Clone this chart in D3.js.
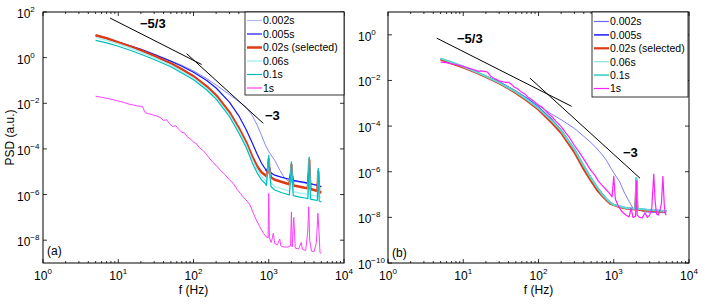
<!DOCTYPE html>
<html>
<head>
<meta charset="utf-8">
<script src="https://cdn.jsdelivr.net/npm/d3@7"></script>
<style>
  body { margin: 0; background: #fff; }
  svg { display: block; font-family: "Liberation Sans", Arial, sans-serif; }
</style>
</head>
<body>
<svg id="chart" width="708" height="305"></svg>
<script>
// Series are [f (Hz), log10 PSD] pairs.
var seriesNames = ["0.002s", "0.005s", "0.02s (selected)", "0.06s", "0.1s", "1s"];

// ── panel (a) ──
var a002 = [[5,0.97],[10,0.68],[20,0.37],[30,0.16],[50,-0.14],[70,-0.34],[100,-0.58],[150,-0.92],[200,-1.2],[300,-1.62],[400,-1.92],[500,-2.18],[600,-2.52],[700,-2.95],[800,-3.4],[900,-3.82],[1000,-4.12],[1200,-4.5],[1400,-4.93],[1600,-5.25],[1800,-5.4],[1940,-5.42],[2000,-4.65],[2060,-5.42],[2500,-5.45],[3000,-5.5],[3300,-5.52],[3450,-4.45],[3600,-5.55],[4000,-5.58],[4450,-5.6],[4550,-4.95],[4650,-5.62],[5000,-5.67]];
var a005 = [[5,0.97],[7,0.85],[10,0.68],[15,0.5],[20,0.36],[30,0.14],[50,-0.16],[70,-0.38],[100,-0.64],[150,-1.0],[200,-1.33],[300,-1.95],[400,-2.55],[500,-3.15],[600,-3.72],[700,-4.22],[800,-4.62],[900,-4.88],[930,-4.98],[985,-4.75],[1000,-4.4],[1015,-4.75],[1070,-5.05],[1200,-5.15],[1500,-5.25],[1880,-5.33],[1970,-5.0],[2000,-4.65],[2030,-5.0],[2120,-5.38],[2500,-5.42],[3000,-5.47],[3320,-5.5],[3410,-4.85],[3450,-4.45],[3490,-4.85],[3580,-5.52],[4000,-5.56],[4420,-5.6],[4510,-5.3],[4550,-4.95],[4590,-5.3],[4680,-5.62],[5000,-5.66]];
var a02 = [[5,0.98],[7,0.85],[10,0.67],[15,0.47],[20,0.32],[30,0.08],[50,-0.25],[70,-0.51],[100,-0.82],[150,-1.26],[200,-1.65],[300,-2.39],[400,-3.09],[500,-3.7],[600,-4.32],[700,-4.76],[800,-5.02],[900,-5.15],[930,-5.2],[985,-4.9],[1000,-4.45],[1015,-4.9],[1070,-5.25],[1200,-5.35],[1500,-5.45],[1880,-5.55],[1970,-5.15],[2000,-4.7],[2030,-5.15],[2120,-5.6],[2500,-5.65],[3000,-5.7],[3320,-5.72],[3410,-5.0],[3450,-4.5],[3490,-5.0],[3580,-5.76],[4000,-5.8],[4420,-5.85],[4510,-5.4],[4550,-5.0],[4590,-5.4],[4680,-5.88],[5000,-5.92]];
var a06 = [[5,0.88],[7,0.76],[10,0.6],[15,0.4],[20,0.24],[30,0.0],[50,-0.33],[70,-0.6],[100,-0.9],[150,-1.35],[200,-1.75],[300,-2.5],[400,-3.2],[500,-3.82],[600,-4.45],[700,-4.9],[800,-5.2],[900,-5.38],[930,-5.45],[985,-4.8],[1000,-4.35],[1015,-4.8],[1070,-5.5],[1200,-5.65],[1500,-5.75],[1880,-5.85],[1970,-5.1],[2000,-4.6],[2030,-5.1],[2120,-5.88],[2500,-5.92],[3000,-5.97],[3320,-6.0],[3410,-4.9],[3450,-4.4],[3490,-4.9],[3580,-6.02],[4000,-6.05],[4420,-6.08],[4510,-5.4],[4550,-4.88],[4590,-5.4],[4680,-6.1],[5000,-6.15]];
var a1 = [[5,0.76],[7,0.65],[10,0.5],[15,0.3],[20,0.15],[30,-0.08],[50,-0.4],[70,-0.67],[100,-0.97],[150,-1.42],[200,-1.82],[300,-2.58],[400,-3.3],[500,-3.93],[600,-4.58],[700,-5.05],[800,-5.35],[900,-5.52],[930,-5.6],[985,-4.75],[1000,-4.28],[1015,-4.75],[1070,-5.65],[1200,-5.8],[1500,-5.92],[1880,-6.02],[1970,-5.05],[2000,-4.57],[2030,-5.05],[2120,-6.05],[2500,-6.1],[3000,-6.15],[3320,-6.18],[3410,-4.85],[3450,-4.36],[3490,-4.85],[3580,-6.2],[4000,-6.23],[4420,-6.26],[4510,-5.35],[4550,-4.85],[4590,-5.35],[4680,-6.28],[5000,-6.32]];
var a1s = [[5,-1.69],[6,-1.74],[7,-1.78],[8,-1.82],[10,-1.9],[12,-1.97],[14,-2.04],[16,-2.08],[18,-2.12],[20,-2.13],[21,-2.14],[22,-2.3],[23,-2.42],[25,-2.45],[28,-2.5],[32,-2.55],[36,-2.62],[40,-2.75],[44,-2.72],[48,-2.9],[53,-3.02],[58,-2.98],[64,-3.15],[70,-3.28],[76,-3.3],[82,-3.46],[90,-3.55],[100,-3.7],[110,-3.78],[120,-3.95],[133,-4.06],[145,-4.2],[160,-4.38],[182,-4.6],[200,-4.72],[230,-4.95],[260,-5.12],[300,-5.35],[335,-5.5],[380,-5.78],[420,-5.95],[470,-6.15],[520,-6.3],[565,-6.46],[620,-6.8],[680,-7.1],[760,-7.41],[850,-7.7],[920,-7.85],[980,-7.9],[1000,-5.95],[1020,-7.9],[1080,-8.1],[1150,-7.7],[1200,-8.15],[1300,-8.2],[1400,-7.95],[1450,-8.25],[1600,-8.3],[1800,-8.3],[1950,-8.25],[2000,-6.76],[2050,-8.3],[2150,-7.0],[2250,-8.35],[2500,-8.38],[2700,-8.1],[2800,-8.4],[3100,-8.45],[3300,-7.6],[3400,-6.54],[3500,-8.0],[3700,-8.48],[4000,-8.5],[4300,-8.1],[4500,-6.82],[4650,-7.6],[4800,-8.55],[5000,-8.57]];

// ── panel (b) ──
var b002 = [[5,-1.07],[10,-1.41],[20,-1.82],[30,-2.07],[50,-2.46],[70,-2.76],[100,-3.1],[150,-3.48],[200,-3.72],[300,-4.1],[400,-4.45],[500,-4.73],[565,-4.9],[700,-5.25],[800,-5.5],[900,-5.8],[1000,-6.05],[1200,-6.45],[1400,-6.95],[1600,-7.3],[1800,-7.6],[1950,-7.65],[2000,-6.28],[2050,-7.65],[2500,-7.75],[3000,-7.78],[5000,-7.8]];
var b005 = [[5,-1.07],[10,-1.41],[20,-1.82],[30,-2.07],[50,-2.48],[70,-2.8],[100,-3.18],[150,-3.72],[200,-4.18],[300,-5.02],[400,-5.75],[500,-6.28],[600,-6.68],[700,-6.97],[800,-7.2],[900,-7.35],[1000,-7.45],[1500,-7.6],[1940,-7.62],[2000,-6.3],[2060,-7.62],[3000,-7.68],[5000,-7.72]];
var b02 = [[5,-1.08],[7,-1.25],[10,-1.43],[15,-1.66],[20,-1.85],[30,-2.12],[40,-2.35],[50,-2.55],[70,-2.88],[100,-3.28],[150,-3.85],[200,-4.3],[300,-5.15],[400,-5.9],[500,-6.4],[600,-6.8],[700,-7.05],[800,-7.25],[900,-7.4],[1200,-7.55],[1500,-7.62],[1940,-7.65],[2000,-6.4],[2060,-7.65],[2500,-7.7],[5000,-7.75]];
var b06 = [[5,-1.04],[7,-1.2],[10,-1.4],[15,-1.64],[20,-1.83],[30,-2.1],[50,-2.52],[70,-2.85],[100,-3.24],[150,-3.78],[200,-4.22],[300,-5.05],[400,-5.78],[500,-6.3],[600,-6.7],[700,-7.0],[800,-7.2],[900,-7.35],[1000,-7.45],[1500,-7.6],[1940,-7.62],[2000,-6.3],[2060,-7.62],[3000,-7.68],[5000,-7.72]];
var b1 = [[5,-1.03],[7,-1.2],[10,-1.39],[15,-1.63],[20,-1.82],[30,-2.09],[50,-2.5],[70,-2.83],[100,-3.22],[150,-3.76],[200,-4.2],[300,-5.02],[400,-5.75],[500,-6.28],[600,-6.68],[700,-6.98],[800,-7.2],[900,-7.35],[1000,-7.45],[1500,-7.6],[1940,-7.62],[2000,-6.27],[2060,-7.62],[3000,-7.68],[5000,-7.72]];
var b1s = [[5,-1.2],[6,-1.22],[7,-1.27],[8,-1.3],[10,-1.38],[12,-1.47],[14,-1.53],[16,-1.6],[17,-1.58],[19,-1.6],[21,-1.63],[23,-1.8],[26,-1.92],[30,-2.02],[33,-2.05],[36,-2.08],[40,-2.08],[44,-2.18],[48,-2.3],[52,-2.35],[58,-2.48],[65,-2.58],[72,-2.72],[80,-2.82],[90,-2.95],[100,-3.08],[110,-3.15],[120,-3.28],[135,-3.45],[150,-3.58],[170,-3.78],[200,-4.02],[230,-4.3],[260,-4.52],[300,-4.85],[340,-5.1],[400,-5.45],[450,-5.72],[500,-5.95],[560,-6.15],[620,-6.4],[700,-6.6],[800,-6.8],[880,-6.95],[950,-7.1],[1000,-6.2],[1050,-7.2],[1150,-7.5],[1250,-7.7],[1330,-7.8],[1450,-7.9],[1600,-7.98],[1700,-7.6],[1800,-8.0],[1950,-7.95],[2000,-6.4],[2050,-7.9],[2200,-8.0],[2400,-8.02],[2600,-7.8],[2800,-8.0],[3000,-7.9],[3200,-7.6],[3400,-6.1],[3550,-7.3],[3700,-7.85],[3900,-7.9],[4100,-7.7],[4300,-7.4],[4500,-6.2],[4700,-7.5],[4850,-7.85],[5000,-7.9]];

// reference slopes: [f, log10 PSD] end points
var slopesA = [[[7.8,1.733],[128,-0.299]], [[81,0.175],[846,-2.879]]];
var slopesB = [[[4.44,-0.145],[276,-3.135]], [[77,-1.899],[2234,-6.285]]];

var xTicks = [1, 10, 100, 1000, 10000];

var panels = [
  { x0: 43, x1: 344, y0: 12, y1: 263, yDomain: [1e-9, 1e2], yTicks: [-8, -6, -4, -2, 0, 2],
    series: [a002, a005, a02, a06, a1, a1s],
    colors: ["#6a6aff", "#1414ff", "#e03a14", "#a8f0f0", "#00bdbd", "#ff3cff"],
    widths: [0.8, 1.2, 2.5, 1.4, 1.2, 1],
    legendColors: ["#b4b4ff", "#1414ff", "#e03a14", "#a8f0f0", "#00bdbd", "#ff3cff"],
    slopes: slopesA, label: "(a)", labelPos: [47, 255], yLabelX: 17,
    slopeText: [[140, 28, "\u22125/3"], [265, 120, "\u22123"]],
    legend: { x: 245, y: 12, w: 99, h: 83, first: 20.5, step: 13.5 } },
  { x0: 388, x1: 689, y0: 12, y1: 263, yDomain: [1e-10, 1e1], yTicks: [-10, -8, -6, -4, -2, 0],
    series: [b002, b005, b02, b06, b1, b1s],
    colors: ["#5c5cff", "#2a2aff", "#e03a14", "#80e2da", "#5cd8d0", "#ff1eff"],
    widths: [0.8, 1.6, 2.2, 1, 2, 1.2],
    legendColors: ["#6868ff", "#2a2aff", "#e03a14", "#80e2da", "#5cd8d0", "#ff1eff"],
    slopes: slopesB, label: "(b)", labelPos: [392, 257], yLabelX: 358,
    slopeText: [[457, 43, "\u22125/3"], [623, 157, "\u22123"]],
    legend: { x: 592, y: 12, w: 96, h: 85, first: 21.5, step: 13.4 } }
];

var svg = d3.select("#chart");

function supLabel(sel, exp) {
  sel.append("tspan").text("10");
  sel.append("tspan").attr("font-size", 8).attr("dy", -6).text(String(exp).replace("-", "\u2212"));
}

panels.forEach(function (p, pi) {
  var x = d3.scaleLog().domain([1, 1e4]).range([p.x0, p.x1]);
  var y = d3.scaleLog().domain(p.yDomain).range([p.y1, p.y0]);
  var g = svg.append("g");

  var clipId = "clip" + pi;
  svg.append("clipPath").attr("id", clipId).append("rect")
    .attr("x", p.x0).attr("y", p.y0).attr("width", p.x1 - p.x0).attr("height", p.y1 - p.y0);

  var line = d3.line()
    .x(function (d) { return x(d[0]); })
    .y(function (d) { return y(Math.pow(10, d[1])); });

  var plot = g.append("g").attr("clip-path", "url(#" + clipId + ")");
  p.series.forEach(function (s, i) {
    plot.append("path").datum(s)
      .attr("d", line)
      .attr("fill", "none")
      .attr("stroke", p.colors[i])
      .attr("stroke-width", p.widths[i])
      .attr("stroke-linejoin", "round");
  });

  // reference slope lines
  p.slopes.forEach(function (s) {
    plot.append("path").datum(s).attr("d", line)
      .attr("fill", "none").attr("stroke", "#000").attr("stroke-width", 1);
  });
  p.slopeText.forEach(function (t) {
    g.append("text").attr("x", t[0]).attr("y", t[1])
      .attr("font-size", 13).attr("font-weight", "bold").text(t[2]);
  });

  // ticks
  var ticks = g.append("g").attr("stroke", "#000").attr("stroke-width", 0.8);
  xTicks.forEach(function (t, ti) {
    var px = x(t);
    ticks.append("line").attr("x1", px).attr("x2", px).attr("y1", p.y1).attr("y2", p.y1 - 4);
    ticks.append("line").attr("x1", px).attr("x2", px).attr("y1", p.y0).attr("y2", p.y0 + 4);
    if (ti < xTicks.length - 1) {
      for (var k = 2; k < 10; k++) {
        var mx = x(t * k);
        ticks.append("line").attr("x1", mx).attr("x2", mx).attr("y1", p.y1).attr("y2", p.y1 - 2);
        ticks.append("line").attr("x1", mx).attr("x2", mx).attr("y1", p.y0).attr("y2", p.y0 + 2);
      }
    }
    var lab = g.append("text").attr("x", px).attr("y", 280)
      .attr("text-anchor", "middle").attr("font-size", 12);
    supLabel(lab, Math.round(Math.log10(t)));
  });
  p.yTicks.forEach(function (e) {
    var py = y(Math.pow(10, e));
    ticks.append("line").attr("x1", p.x0).attr("x2", p.x0 + 4).attr("y1", py).attr("y2", py);
    ticks.append("line").attr("x1", p.x1).attr("x2", p.x1 - 4).attr("y1", py).attr("y2", py);
    var lab = g.append("text").attr("x", p.yLabelX).attr("y", py + 6)
      .attr("font-size", 12);
    supLabel(lab, e);
  });

  // axes box
  g.append("rect").attr("x", p.x0).attr("y", p.y0)
    .attr("width", p.x1 - p.x0).attr("height", p.y1 - p.y0)
    .attr("fill", "none").attr("stroke", "#000").attr("stroke-width", 1);

  g.append("text").attr("x", (p.x0 + p.x1) / 2).attr("y", 294)
    .attr("text-anchor", "middle").attr("font-size", 12).text("f (Hz)");
  g.append("text").attr("x", p.labelPos[0]).attr("y", p.labelPos[1])
    .attr("font-size", 12).text(p.label);

  // legend
  var L = p.legend;
  var lg = g.append("g");
  lg.append("rect").attr("x", L.x).attr("y", L.y).attr("width", L.w).attr("height", L.h)
    .attr("fill", "#fff").attr("stroke", "#000").attr("stroke-width", 0.8);
  seriesNames.forEach(function (name, i) {
    var cy = L.first + i * L.step;
    lg.append("line").attr("x1", L.x + 2).attr("x2", L.x + 17).attr("y1", cy).attr("y2", cy)
      .attr("stroke", p.legendColors[i]).attr("stroke-width", Math.max(p.widths[i], 1.2));
    lg.append("text").attr("x", L.x + 18).attr("y", cy + 3.8)
      .attr("font-size", 10.5).text(name);
  });
});

svg.append("text")
  .attr("transform", "translate(14,137.5) rotate(-90)")
  .attr("text-anchor", "middle").attr("font-size", 12).text("PSD (a.u.)");
</script>
</body>
</html>
